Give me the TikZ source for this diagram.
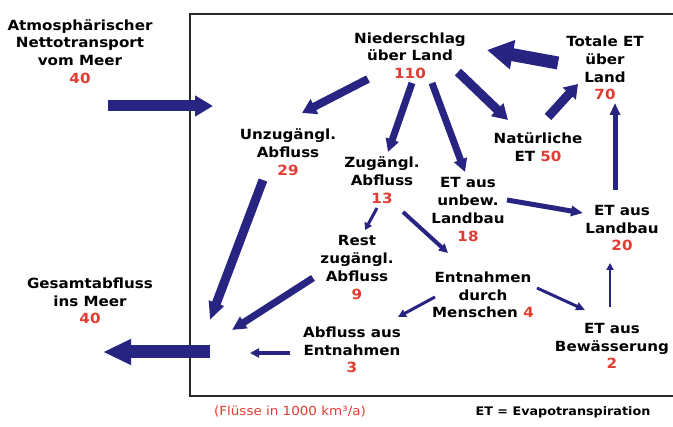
\documentclass[tikz,border=0pt]{standalone}
\usepackage{fontspec}
\setmainfont{DejaVu Sans}
\newfontfamily\lblfont[FakeStretch=1.08]{DejaVu Sans}
\usetikzlibrary{arrows.meta,calc}
\definecolor{flow}{RGB}{40,36,130}
\definecolor{num}{RGB}{225,60,50}
\definecolor{framecol}{RGB}{40,40,40}
\newcommand\numval[1]{\textcolor{num}{#1}}
\tikzset{
  lab/.style={align=center, inner sep=0pt, font=\lblfont\bfseries\fontsize{14}{17.7}\selectfont},
  flowarrow/.style args={#1/#2/#3}{draw=flow, line width=#1pt, -{Triangle[length=#2pt,width=#3pt]}},
}
\begin{document}
\begin{tikzpicture}[x=1pt,y=-1pt]
\useasboundingbox (0,0) rectangle (673,427);
\fill[white] (0,0) rectangle (673,427);
\draw[framecol, line width=2pt] (673,14) -- (190,14) -- (190,396) -- (673,396);

\node[lab] (atm) at (80,51.5) {Atmosphärischer\\Nettotransport\\vom Meer\\\numval{40}};
\node[lab] (nied) at (410,55.5) {Niederschlag\\über Land\\\numval{110}};
\node[lab] (tot) at (605,68) {Totale ET\\über\\Land\\\numval{70}};
\node[lab] (unz) at (288,152) {Unzugängl.\\Abfluss\\\numval{29}};
\node[lab] (zug) at (382,180) {Zugängl.\\Abfluss\\\numval{13}};
\node[lab] (unbew) at (468,209.5) {ET aus\\unbew.\\Landbau\\\numval{18}};
\node[lab] (nat) at (538,147.5) {Natürliche\\ET \numval{50}};
\node[lab] (land) at (622,228) {ET aus\\Landbau\\\numval{20}};
\node[lab] (rest) at (357,267.5) {Rest\\zugängl.\\Abfluss\\\numval{9}};
\node[lab] (entn) at (483,295) {Entnahmen\\durch\\Menschen \numval{4}};
\node[lab] (abfl) at (352,350) {Abfluss aus\\Entnahmen\\\numval{3}};
\node[lab] (bew) at (612,346) {ET aus\\Bewässerung\\\numval{2}};
\node[lab] (ges) at (90,301) {Gesamtabfluss\\ins Meer\\\numval{40}};
\node[inner sep=0pt, text=num, font=\lblfont\fontsize{12.5}{15}\selectfont] (unit) at (290,412) {(Flüsse in 1000 km³/a)};
\node[inner sep=0pt, font=\lblfont\bfseries\fontsize{11.8}{14}\selectfont] (etdef) at (563,412) {ET = Evapotranspiration};

\coordinate (sink) at (212,345);
\coordinate (boxin) at (213,106);

% inflow and outflow
\draw[flowarrow=11/18/20] ($(atm)+(28,54.5)$) -- (boxin);
\draw[flowarrow=13/28/24] ($(sink)+(-2,7)$) -- ($(ges)+(13,51)$);
% from precipitation
\draw[flowarrow=8/14/16] ($(nied)+(-42,23.5)$) -- ($(unz)+(14,-39)$);
\draw[flowarrow=7/13/13] ($(nied)+(2,27.5)$) -- ($(zug)+(6,-28)$);
\draw[flowarrow=7/13/13] ($(nied)+(22,27.5)$) -- ($(unbew)+(-3,-37.5)$);
\draw[flowarrow=9/15/17] ($(nied)+(48,16.5)$) -- ($(nat)+(-30,-27.5)$);
% evapotranspiration
\draw[flowarrow=13/26/28] ($(tot)+(-47,-5)$) -- ($(nied)+(77,-5.5)$);
\draw[flowarrow=9/13/17] ($(nat)+(10,-30.5)$) -- ($(tot)+(-27,16)$);
\draw[flowarrow=5/12/10] ($(land)+(-7,-38)$) -- ($(tot)+(10,35)$);
\draw[flowarrow=2/7/7] ($(bew)+(-2,-39)$) -- ($(land)+(-12,35)$);
\draw[flowarrow=5/12/10] ($(unbew)+(39,-9.5)$) -- ($(land)+(-39,-15)$);
% accessible runoff
\draw[flowarrow=3/7/8] ($(zug)+(-5,28)$) -- ($(rest)+(8,-37.5)$);
\draw[flowarrow=4/9/9] ($(zug)+(21,32)$) -- ($(entn)+(-35,-42)$);
\draw[flowarrow=3/9/8] ($(entn)+(54,-7)$) -- ($(bew)+(-27,-36)$);
\draw[flowarrow=3/8/8] ($(entn)+(-48,2)$) -- ($(abfl)+(46,-33)$);
% to total runoff
\draw[flowarrow=9/18/15] ($(unz)+(-25,28)$) -- ($(sink)+(-2,-25)$);
\draw[flowarrow=7/14/13] ($(rest)+(-44,10.5)$) -- ($(sink)+(20,-15)$);
\draw[flowarrow=4/9/9] ($(abfl)+(-62,3)$) -- ($(sink)+(38,8)$);
\end{tikzpicture}
\end{document}
